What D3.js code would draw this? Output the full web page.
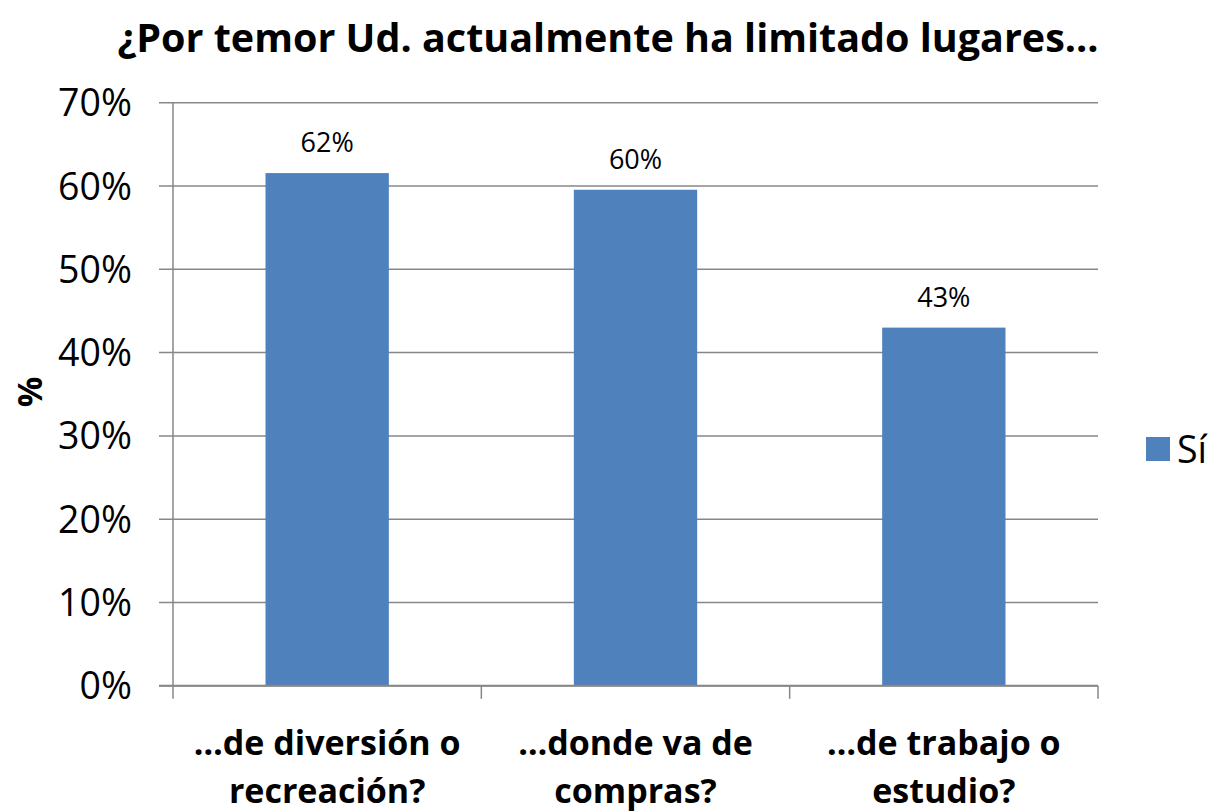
<!DOCTYPE html>
<html>
<head>
<meta charset="utf-8">
<script src="https://cdn.jsdelivr.net/npm/d3@7"></script>
<style>
  html, body { margin: 0; padding: 0; background: #ffffff; }
  svg text { font-family: "Open Sans", Lato, sans-serif; fill: #000; }
</style>
</head>
<body>
<svg id="chart" width="1211" height="812"></svg>
<script>
// Encuesta: lugares limitados por temor
const categories = [
  ["…de diversión o", "recreación?"],
  ["…donde va de", "compras?"],
  ["…de trabajo o", "estudio?"]
];
const seriesName = "Sí";
const values = [0.6155, 0.5955, 0.430];
const yTicks = [0, 0.1, 0.2, 0.3, 0.4, 0.5, 0.6, 0.7];
const titleText = "¿Por temor Ud. actualmente ha limitado lugares…";
const yTitle = "%";

const W = 1211, H = 812;
const plot = { left: 173, right: 1098, top: 102.7, bottom: 685.8 };
const barColor = "#4F81BD";
const gridColor = "#878787";

const svg = d3.select("#chart");

const x = d3.scaleBand()
  .domain(d3.range(categories.length))
  .range([plot.left, plot.right])
  .padding(0);

const y = d3.scaleLinear()
  .domain([0, 0.7])
  .range([plot.bottom, plot.top]);

const fmt = d3.format(".0%");

// horizontal gridlines + left tick marks
svg.append("g")
  .selectAll("line")
  .data(yTicks)
  .join("line")
  .attr("x1", plot.left - 14)
  .attr("x2", plot.right)
  .attr("y1", d => y(d))
  .attr("y2", d => y(d))
  .attr("stroke", gridColor)
  .attr("stroke-width", 1.5);

// y tick labels
svg.append("g")
  .selectAll("text")
  .data(yTicks)
  .join("text")
  .attr("x", 132)
  .attr("y", d => y(d) + 13.5)
  .attr("text-anchor", "end")
  .attr("font-size", 37.5)
  .text(d => fmt(d));

// bars
const barW = x.bandwidth() * 0.4;
svg.append("g")
  .selectAll("rect")
  .data(values)
  .join("rect")
  .attr("x", (d, i) => x(i) + (x.bandwidth() - barW) / 2)
  .attr("width", barW)
  .attr("y", d => y(d))
  .attr("height", d => y(0) - y(d))
  .attr("fill", barColor);

// value labels
svg.append("g")
  .selectAll("text")
  .data(values)
  .join("text")
  .attr("x", (d, i) => x(i) + x.bandwidth() / 2)
  .attr("y", d => y(d) - 21)
  .attr("text-anchor", "middle")
  .attr("font-size", 27)
  .text(d => fmt(d));

// axes lines
svg.append("line")
  .attr("x1", plot.left).attr("x2", plot.left)
  .attr("y1", plot.top).attr("y2", plot.bottom)
  .attr("stroke", gridColor).attr("stroke-width", 1.5);
svg.append("line")
  .attr("x1", plot.left - 14).attr("x2", plot.right)
  .attr("y1", plot.bottom).attr("y2", plot.bottom)
  .attr("stroke", gridColor).attr("stroke-width", 2);

// x tick marks at category boundaries
const boundaries = d3.range(categories.length + 1).map(i =>
  i < categories.length ? x(i) : x(categories.length - 1) + x.bandwidth());
svg.append("g")
  .selectAll("line")
  .data(boundaries)
  .join("line")
  .attr("x1", d => d).attr("x2", d => d)
  .attr("y1", plot.bottom).attr("y2", plot.bottom + 13)
  .attr("stroke", gridColor).attr("stroke-width", 1.5);

// category labels
const catG = svg.append("g")
  .selectAll("text")
  .data(categories)
  .join("text")
  .attr("text-anchor", "middle")
  .attr("font-size", 34)
  .attr("font-weight", "bold");
catG.selectAll("tspan")
  .data((d, i) => d.map(line => ({ line, i })))
  .join("tspan")
  .attr("x", d => x(d.i) + x.bandwidth() / 2)
  .attr("y", (d, j) => 755 + j * 48)
  .text(d => d.line);

// title
svg.append("text")
  .attr("x", 608)
  .attr("y", 52)
  .attr("text-anchor", "middle")
  .attr("font-size", 39.5)
  .attr("font-weight", "bold")
  .text(titleText);

// y axis title
svg.append("text")
  .attr("transform", "translate(42,392) rotate(-90)")
  .attr("text-anchor", "middle")
  .attr("font-size", 34)
  .attr("font-weight", "bold")
  .text(yTitle);

// legend
const legend = svg.append("g").attr("transform", "translate(1146,437)");
legend.append("rect")
  .attr("width", 24).attr("height", 24)
  .attr("fill", barColor);
legend.append("text")
  .attr("x", 31).attr("y", 26)
  .attr("font-size", 37.5)
  .text(seriesName);
</script>
</body>
</html>
